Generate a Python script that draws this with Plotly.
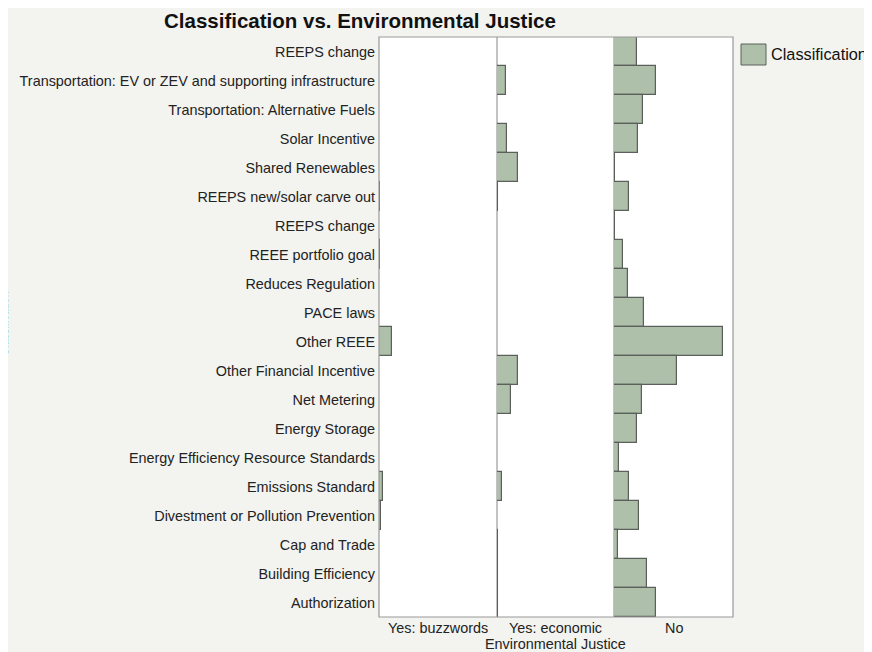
import plotly.graph_objects as go

# Categories, top to bottom
categories = [
    "REEPS change",
    "Transportation: EV or ZEV and supporting infrastructure",
    "Transportation: Alternative Fuels",
    "Solar Incentive",
    "Shared Renewables",
    "REEPS new/solar carve out",
    "REEPS change",
    "REEE portfolio goal",
    "Reduces Regulation",
    "PACE laws",
    "Other REEE",
    "Other Financial Incentive",
    "Net Metering",
    "Energy Storage",
    "Energy Efficiency Resource Standards",
    "Emissions Standard",
    "Divestment or Pollution Prevention",
    "Cap and Trade",
    "Building Efficiency",
    "Authorization",
]

groups = ["Yes: buzzwords", "Yes: economic", "No"]

# Estimated bar lengths (same scale for every panel)
yes_buzzwords = [0, 0, 0, 0, 0, 1, 0, 1, 0, 0, 13.4, 0, 0, 0, 0, 4, 1.5, 0, 0, 0]
yes_economic = [0, 9, 0, 10.4, 21, 1.2, 0, 0, 0, 0, 0, 20.7, 14.4, 0, 0, 5, 0, 1, 1, 1]
no_values = [22.4, 42, 29, 23.4, 1, 14.4, 1.2, 9, 14, 30, 108.4, 62.7, 27.4, 22.4, 5, 14.4, 25, 4, 32.4, 42]

series = [yes_buzzwords, yes_economic, no_values]
x_max = 118

# page offset (body margin) is 8px
OFF = 8
W, H = 864, 644
# plot area in screen pixels
L, R, T, B = 379, 733, 37, 617


def px_x(p):
    return (p - L) / (R - L)


def px_y(p):
    return (B - p) / (B - T)


positions = list(range(len(categories)))
FONT = "Liberation Sans, Arial, Helvetica, sans-serif"
LAB = 14.4

fig = go.Figure()
axis_names = ["x", "x2", "x3"]
for i, (g, vals) in enumerate(zip(groups, series)):
    fig.add_trace(go.Bar(
        x=vals, y=positions, orientation="h",
        xaxis=axis_names[i], yaxis="y",
        marker=dict(color="#aebfaa", line=dict(color="#5b605b", width=1.2)),
        name="Classification", showlegend=False,
        hovertemplate=g + "<br>%{customdata}: %{x}<extra></extra>",
        customdata=categories,
    ))

div1, div2 = 497, 614
domains = [[0, px_x(div1)], [px_x(div1), px_x(div2)], [px_x(div2), 1]]
common_x = dict(range=[0, x_max], showticklabels=False, showgrid=False, zeroline=False,
                showline=False, ticks="", fixedrange=True)
layout = dict(
    width=W, height=H,
    margin=dict(l=L - OFF, r=W - (R - OFF), t=T - OFF, b=H - (B - OFF), pad=0),
    paper_bgcolor="#f3f3ef",
    plot_bgcolor="white",
    bargap=0,
    showlegend=False,
    font=dict(family=FONT, size=LAB, color="#222"),
    yaxis=dict(
        tickvals=positions, ticktext=categories,
        range=[len(categories) - 0.5, -0.5],
        showgrid=False, zeroline=False, showline=False, ticks="",
        tickfont=dict(size=LAB, color="#222"), ticklabelstandoff=3,
    ),
)
layout["xaxis"] = dict(domain=domains[0], anchor="y", **common_x)
layout["xaxis2"] = dict(domain=domains[1], anchor="y", **common_x)
layout["xaxis3"] = dict(domain=domains[2], anchor="y", **common_x)
fig.update_layout(**layout)

# Panel borders
fig.add_shape(type="rect", xref="paper", yref="paper", x0=0, x1=1, y0=0, y1=1,
              line=dict(color="#9a9a9a", width=1.2), layer="above")
for d in (div1, div2):
    fig.add_shape(type="line", xref="paper", yref="paper", x0=px_x(d), x1=px_x(d), y0=0, y1=1,
                  line=dict(color="#9a9a9a", width=1.2), layer="below")

# Group labels under each panel
centers = [(L + div1) / 2, (div1 + div2) / 2, (div2 + R) / 2]
for g, c in zip(groups, centers):
    fig.add_annotation(text=g, xref="paper", yref="paper", x=px_x(c), y=px_y(628),
                       xanchor="center", yanchor="middle", showarrow=False,
                       font=dict(size=LAB, color="#222"))
fig.add_annotation(text="Environmental Justice", xref="paper", yref="paper",
                   x=px_x(555), y=px_y(644), xanchor="center", yanchor="middle",
                   showarrow=False, font=dict(size=LAB, color="#222"))

# Title
fig.add_annotation(text="<b>Classification vs. Environmental Justice</b>", xref="paper", yref="paper",
                   x=px_x(360), y=px_y(20), xanchor="center", yanchor="middle", showarrow=False,
                   font=dict(size=20.5, color="#111"))

# Clipped y-axis title at far left
fig.add_annotation(text="Classification", xref="paper", yref="paper",
                   x=px_x(4), y=px_y(324), xanchor="center", yanchor="middle",
                   textangle=-90, showarrow=False, font=dict(size=11, color="#222"))

# Legend
fig.add_shape(type="rect", xref="paper", yref="paper",
              x0=px_x(741), x1=px_x(766), y0=px_y(65), y1=px_y(44),
              fillcolor="#aebfaa", line=dict(color="#5b605b", width=1))
fig.add_annotation(text="Classification", xref="paper", yref="paper",
                   x=px_x(769), y=px_y(54), xanchor="left", yanchor="middle",
                   showarrow=False, font=dict(size=16.3, color="#111"))

fig.write_html("out.html")
